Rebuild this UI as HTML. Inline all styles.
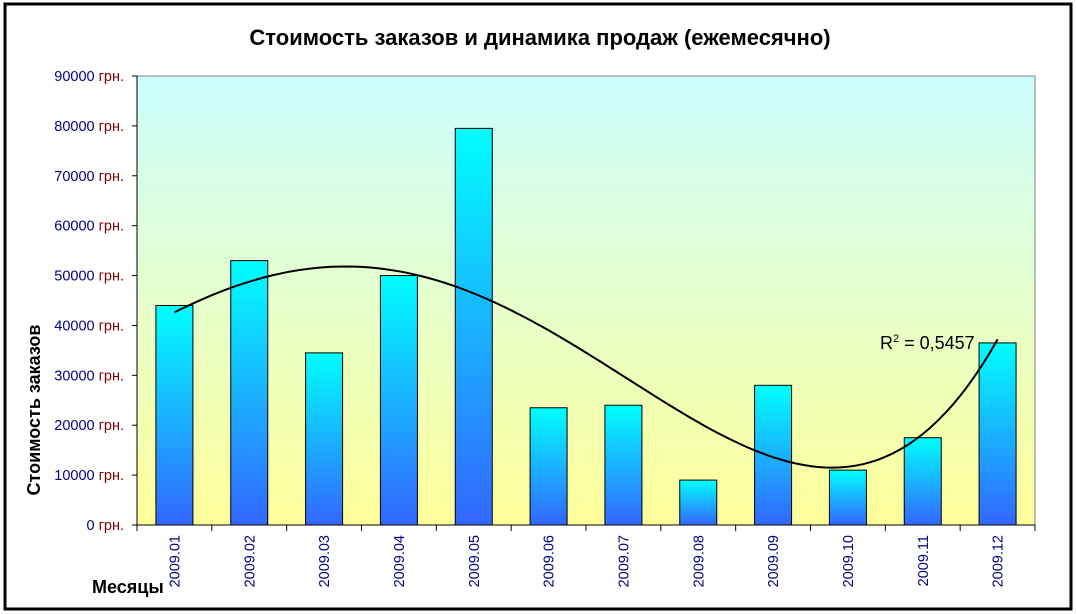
<!DOCTYPE html>
<html><head><meta charset="utf-8"><style>
body{margin:0;background:#fff;}
svg{display:block;font-family:"Liberation Sans",Arial,sans-serif;}
</style></head><body>
<svg id="chart" width="1076" height="614">
<defs>
<linearGradient id="bg" x1="0" y1="0" x2="0" y2="1"><stop offset="0" stop-color="#ccffff"/><stop offset="1" stop-color="#ffff99"/></linearGradient>
<linearGradient id="barg" x1="0" y1="0" x2="0" y2="1"><stop offset="0" stop-color="#00ffff"/><stop offset="1" stop-color="#3366ff"/></linearGradient>
</defs>
<rect x="5" y="4" width="1066" height="605" fill="#fff" stroke="#000" stroke-width="3"/>
<text x="540" y="45" text-anchor="middle" font-size="22" font-weight="bold">Стоимость заказов и динамика продаж (ежемесячно)</text>
<rect x="137" y="76" width="898" height="449" fill="url(#bg)"/>
<polyline points="137,76 1035,76 1035,525" fill="none" stroke="#808080" stroke-width="1"/>
<g id="bars"></g>
<g id="axes"></g>
<path id="trend" fill="none" stroke="#000" stroke-width="2"/>
<text x="880" y="349" font-size="18">R<tspan dy="-7" font-size="11">2</tspan><tspan dy="7"> = 0,5457</tspan></text>
<text transform="translate(40,410) rotate(-90)" text-anchor="middle" font-size="18" font-weight="bold">Стоимость заказов</text>
<text x="92" y="593" font-size="18" font-weight="bold">Месяцы</text>
</svg>
<script>
const categories=["2009.01","2009.02","2009.03","2009.04","2009.05","2009.06","2009.07","2009.08","2009.09","2009.10","2009.11","2009.12"];
const values=[44000,53000,34500,50000,79500,23500,24000,9000,28000,11000,17500,36500];
const yTicks=[0,10000,20000,30000,40000,50000,60000,70000,80000,90000];
const NS="http://www.w3.org/2000/svg";
const X0=137,X1=1035,Y0=525,Y1=76,YMAX=90000;
const cw=(X1-X0)/categories.length;
const xc=i=>X0+cw*(i+0.5);
const y=v=>Y0-(v/YMAX)*(Y0-Y1);
function mk(t,a,p){const e=document.createElementNS(NS,t);for(const k in a)e.setAttribute(k,a[k]);p.appendChild(e);return e;}
const bars=document.getElementById('bars'),axes=document.getElementById('axes');
values.forEach((v,i)=>{
 const r=mk('rect',{x:xc(i)-18.5,y:y(v),width:37,height:Y0-y(v),fill:'url(#barg)',stroke:'#000','stroke-width':1},bars);
 
 
});
const ya=mk('line',{x1:X0,y1:Y1,x2:X0,y2:Y0,stroke:'#000'},axes);


const xa=mk('line',{x1:X0,y1:Y0,x2:X1,y2:Y0,stroke:'#000'},axes);


yTicks.forEach(t=>{
 mk('line',{x1:X0-5,y1:y(t),x2:X0,y2:y(t),stroke:'#000'},axes);
 const tx=mk('text',{x:124,y:y(t)+5,'text-anchor':'end','font-size':14.5},axes);
 
 
 const a=mk('tspan',{fill:'#000080'},tx);a.textContent=t+' ';
 const b=mk('tspan',{fill:'#800000'},tx);b.textContent='грн.';
});
for(let i=0;i<=categories.length;i++)mk('line',{x1:X0+cw*i,y1:Y0,x2:X0+cw*i,y2:Y0+6,stroke:'#000'},axes);
categories.forEach((c,i)=>{
 const t=mk('text',{transform:`translate(${xc(i)+5},${Y0+10}) rotate(-90)`,'text-anchor':'end','font-size':14.5,fill:'#000080'},axes);
 t.textContent=c;
 
 
});
// polynomial least-squares trendline derived from values
const n=values.length,deg=4,M=[],B=[];
const xs=values.map((v,k)=>(k+1-6.5)/5.5);
for(let r=0;r<=deg;r++){M.push([]);let s=0;for(let k=0;k<n;k++)s+=values[k]*Math.pow(xs[k],r);B.push(s);
 for(let c=0;c<=deg;c++){let q=0;for(let k=0;k<n;k++)q+=Math.pow(xs[k],r+c);M[r].push(q);}}
for(let i=0;i<=deg;i++){for(let j=i+1;j<=deg;j++){const f=M[j][i]/M[i][i];for(let k=i;k<=deg;k++)M[j][k]-=f*M[i][k];B[j]-=f*B[i];}}
const co=new Array(deg+1);
for(let i=deg;i>=0;i--){let s=B[i];for(let k=i+1;k<=deg;k++)s-=M[i][k]*co[k];co[i]=s/M[i][i];}
let d='';
for(let s=0;s<=110;s++){const t=1+s*(n-1)/110;const u=(t-6.5)/5.5;let v=0;for(let k=0;k<=deg;k++)v+=co[k]*Math.pow(u,k);
 const px=X0+cw*(t-0.5);d+=(s?'L':'M')+px.toFixed(1)+','+y(v).toFixed(1);}
document.getElementById('trend').setAttribute('d',d);
</script>
</body></html>
